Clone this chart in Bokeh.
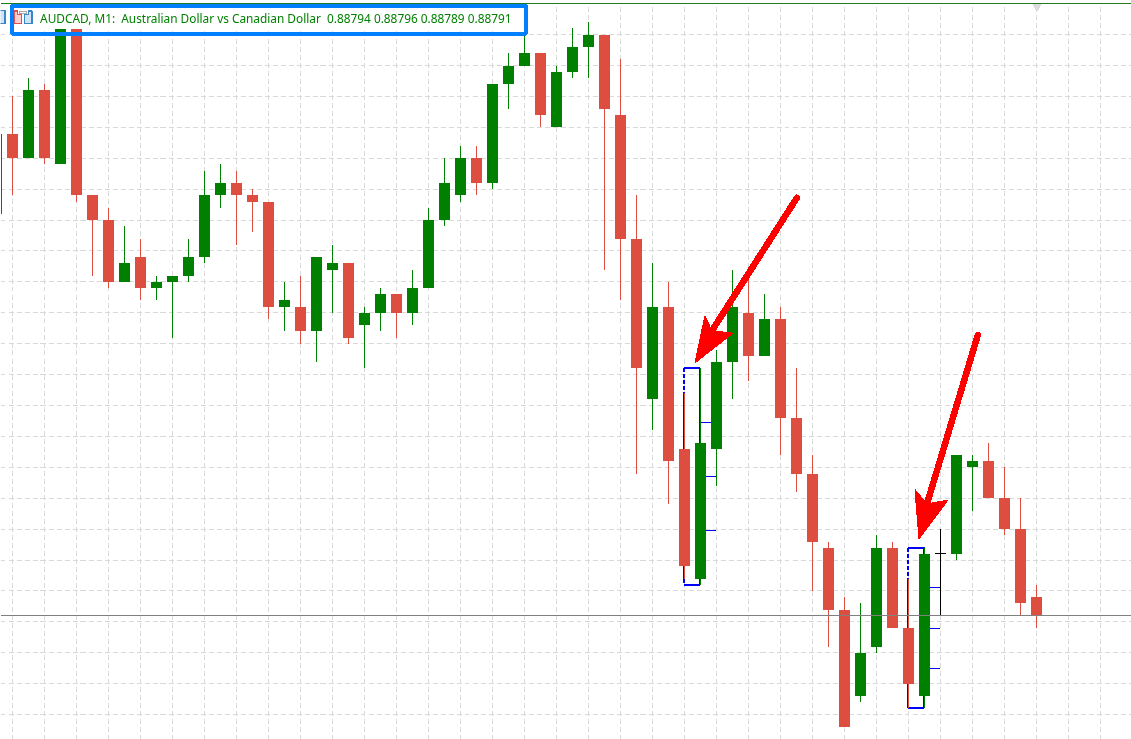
from bokeh.plotting import figure
from bokeh.models import FixedTicker, Range1d, Span, Label
from bokeh.embed import file_html
from bokeh.resources import INLINE

# ---- data: prices in points above 0.88790 ------------------------------
BASE = 88790
first_bar = -1
opens  = [66,79,75,86,74,96,69,65,55,59,54,55,56,59,69,71,69,68,51,51,47,57,58,48,50,53,50,54,65,69,75,71,87,90,92,80,89,93,95,82,62,36,51,28,7,28,42,50,43,49,33,24,12,2,-12,-4,12,-1,-12,11,25,26,20,15,4]
closes = [79,75,86,75,96,69,65,55,58,54,55,56,59,69,71,69,68,51,52,47,59,58,46,50,53,50,54,65,71,75,71,87,90,92,82,89,93,95,83,62,41,51,26,9,29,42,51,43,49,33,24,13,2,-17,-5,12,-1,-10,11,27,26,20,15,3,1]
highs  = [80,85,88,87,96,96,69,67,64,62,56,56,62,73,74,73,70,68,55,56,59,61,58,51,54,53,57,67,75,77,77,87,92,95,92,90,96,97,95,91,69,58,55,37,41,44,57,57,53,51,41,27,13,4,3,14,13,7,12,27,27,29,25,20,6]
lows   = [65,69,75,74,74,68,56,54,55,52,52,46,55,58,67,61,63,49,47,45,42,50,45,41,47,46,48,54,64,68,69,70,83,90,80,80,88,88,57,52,24,31,19,7,6,22,36,39,43,27,21,5,-4,-17,-13,-5,-1,-14,-14,10,18,20,14,1,-1]
# the bar at index 58 is the unfinished black one: it is left out of the lists above
skipped_bar = 58
black_high, black_low, black_tick = 15, 1, 11

header = "AUDCAD, M1:\u00a0\u00a0Australian Dollar vs Canadian Dollar\u00a0\u00a00.88794 0.88796 0.88789 0.88791"
# marked two-bar patterns: first bar, top and bottom of the box, wick span of the first bar
boxes = [(42, 41, 6, 37, 7), (56, 12, -14, 7, -14)]
levels = [0.25, 0.5, 0.75]
# arrows: tail then head outline (bar index, points)
arrows = [
    dict(tail=(49.03, 68.6), neck=(43.72, 47.1), head=[(42.66, 41.9), (43.28, 49.5), (43.72, 47.1), (45.03, 46.7)]),
    dict(tail=(60.34, 46.4), neck=(57.16, 19.1), head=[(56.66, 13.4), (56.41, 21.4), (57.16, 19.1), (58.47, 19.7)]),
]
grid_x = list(range(-2, 70, 2))
grid_y = list(range(-20, 100, 5))
top_rule = 100
last_close = closes[-1]

GREEN = "#008000"
RED = "#de4e40"
BLUE = "#0000ff"

W, H = 1131, 739
# pixel <-> data helpers
PX0, PPB = 11.9, 16.0
PY0, PPP = 621.4, 6.182
xd = lambda px: (px - PX0) / PPB
yd = lambda py: (PY0 - py) / PPP

p = figure(width=W, height=H, output_backend="svg", toolbar_location=None,
           x_range=Range1d(xd(0), xd(W)), y_range=Range1d(yd(H), yd(0)),
           min_border=0, min_border_left=0, min_border_right=0, min_border_top=0, min_border_bottom=0,
           outline_line_color=None, background_fill_color="white", border_fill_color="white")
p.styles = {"position": "fixed", "left": "0px", "top": "0px", "shape-rendering": "crispEdges"}
p.xaxis.visible = False
p.yaxis.visible = False
grid_color = "#d9d9d9"
p.xgrid.ticker = FixedTicker(ticks=grid_x)
p.ygrid.ticker = FixedTicker(ticks=grid_y)
for g in (p.xgrid, p.ygrid):
    g.grid_line_color = grid_color
    g.grid_line_dash = "5 3"
    g.grid_line_width = 1

# white strip above the window's top rule, green rule, bid line
p.quad(left=[xd(0)], right=[xd(W)], bottom=[top_rule], top=[yd(0)], fill_color="white", line_color=None)
p.add_layout(Span(location=top_rule, dimension="width", line_color="#1f7a1f", line_width=1))
p.add_layout(Span(location=last_close, dimension="width", line_color="#808080", line_width=1))
p.scatter([xd(1036.5)], [yd(6)], marker="inverted_triangle", size=10, fill_color="#dcdcdc", line_color=None)

# pattern boxes and their blue retracement ticks (below the candles)
for k, top, bot, wick_hi, wick_lo in boxes:
    l, r = k - 0.03, k + 0.97
    p.line([l, r, r], [top, top, bot], line_color=BLUE, line_width=2)
    p.line([l, r], [bot, bot], line_color=BLUE, line_width=2)
    p.line([l, l], [top, wick_hi], line_color=BLUE, line_width=2, line_dash="4 2")
    p.line([l, l], [wick_hi, wick_lo], line_color=BLUE, line_width=2)
    if wick_lo > bot:
        p.line([l, l], [wick_lo, bot], line_color=BLUE, line_width=2, line_dash="4 2")
    for lv in levels:
        y = top + (bot - top) * lv
        p.segment([k + 1], [y], [k + 2], [y], line_color=BLUE, line_width=1)

# candles
idx = []
k = first_bar
for _ in opens:
    if k == skipped_bar:
        k += 1
    idx.append(k)
    k += 1
for is_up, col in ((True, GREEN), (False, RED)):
    sel = [i for i in range(len(opens)) if (closes[i] > opens[i]) == is_up]
    xs = [idx[i] for i in sel]
    p.segment(xs, [highs[i] for i in sel], xs, [lows[i] for i in sel], line_color=col, line_width=1)
    p.vbar(x=xs, width=11 / PPB, top=[max(opens[i], closes[i]) for i in sel],
           bottom=[min(opens[i], closes[i]) for i in sel], fill_color=col, line_color=None)

# unfinished black bar
p.segment([skipped_bar], [black_high], [skipped_bar], [black_low], line_color="black", line_width=1)
p.segment([skipped_bar - 0.35], [black_tick], [skipped_bar + 0.35], [black_tick], line_color="black", line_width=1)

# red arrows
for a in arrows:
    p.line([a["tail"][0], a["neck"][0]], [a["tail"][1], a["neck"][1]], line_color="#ff0000", line_width=6.5, line_cap="round")
    p.patch([c[0] for c in a["head"]], [c[1] for c in a["head"]], fill_color="#ff0000", line_color="#ff0000", line_width=1)

# header banner
def px_quad(l, t, r, b, fill, line, lw=1):
    p.quad(left=[xd(l)], right=[xd(r)], top=[yd(t)], bottom=[yd(b)], fill_color=fill, line_color=line, line_width=lw)

def px_patch(points, fill, line, lw=1.5):
    p.patch([xd(a) for a, _ in points], [yd(b) for _, b in points], fill_color=fill, line_color=line, line_width=lw)

p.quad(left=[xd(11.5)], right=[xd(525)], top=[yd(5)], bottom=[yd(28)], fill_color="white", line_color=None)
px_quad(11.5, 5, 525, 33, None, "#0080ff", 4)
# icons
px_patch([(14, 10.5), (17, 10.5), (17, 14), (21, 14), (21, 23), (14, 23)], "#ffcfcf", "#e05050")
px_patch([(24, 14), (28, 14), (28, 10.5), (31.5, 10.5), (31.5, 23), (24, 23)], "#cfe4f7", "#3a86c8")
px_quad(18.5, 10.5, 26, 13, "white", "#a8a8a8", 1)
px_quad(-2, 10, 4.5, 23, "#cfe4f7", "#3a86c8", 1.5)

p.add_layout(Label(x=xd(39.6), y=yd(17.5), text=header, text_font="Noto Sans", text_font_size="11.85px",
                   text_color=GREEN, text_baseline="middle"))

html = file_html(p, INLINE)
open("out.html", "w").write(html)
